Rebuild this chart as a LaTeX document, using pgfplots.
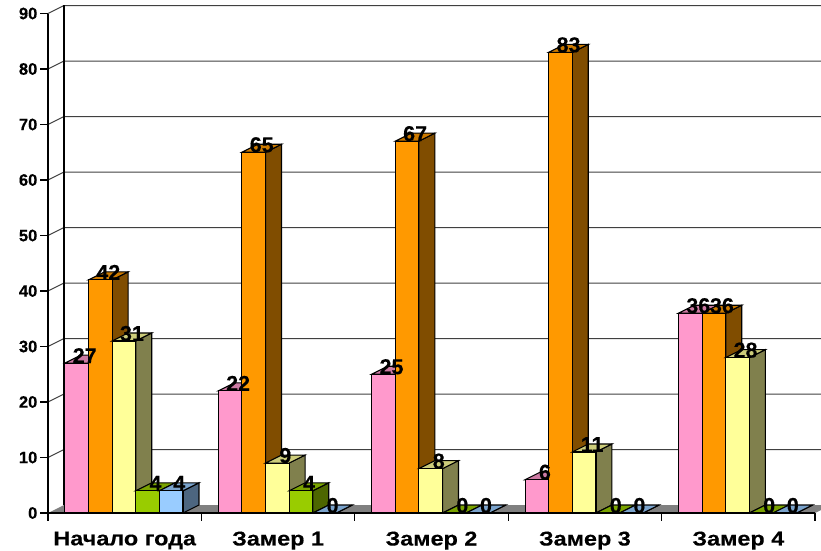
\documentclass[border=0pt]{standalone}
\usepackage{fontspec}
\setmainfont{Liberation Sans}
\newfontfamily\catfont[BoldFeatures={FakeStretch=1.17,FakeBold=0.3}]{Liberation Sans}
\newfontfamily\numfont[BoldFeatures={FakeBold=0.4}]{Liberation Sans}
\usepackage{pgfplots}
\usepackage{pgfplotstable}
\pgfplotsset{compat=1.18}

\definecolor{pinkF}{HTML}{FF99CC}\definecolor{pinkT}{HTML}{CC7AA3}\definecolor{pinkS}{HTML}{804D66}
\definecolor{orngF}{HTML}{FF9900}\definecolor{orngT}{HTML}{CC7A00}\definecolor{orngS}{HTML}{804D00}
\definecolor{yellF}{HTML}{FFFF99}\definecolor{yellT}{HTML}{CCCC7A}\definecolor{yellS}{HTML}{80804D}
\definecolor{grenF}{HTML}{99CC00}\definecolor{grenT}{HTML}{7AA300}\definecolor{grenS}{HTML}{4D6600}
\definecolor{bluuF}{HTML}{99CCFF}\definecolor{bluuT}{HTML}{7AA3CC}\definecolor{bluuS}{HTML}{4D6680}

\pgfplotstableread{
x y
0 27
1 22
2 25
3 6
4 36
}\pinkdata
\pgfplotstableread{
x y
0 42
1 65
2 67
3 83
4 36
}\orngdata
\pgfplotstableread{
x y
0 31
1 9
2 8
3 11
4 28
}\yelldata
\pgfplotstableread{
x y
0 4
1 4
2 0
3 0
4 0
}\grendata
\pgfplotstableread{
x y
0 4
1 0
2 0
3 0
4 0
}\bluudata

% side and top faces of one series: table, bar shift, top colour, side colour
\newcommand\depthfaces[4]{%
  \pgfplotsforeachungrouped \rowi in {0,1,2,3,4}{%
    \pgfplotstablegetelem{\rowi}{y}\of{#1}\let\val\pgfplotsretval
    \pgfmathsetmacro\xa{\rowi+#2-0.077}%
    \pgfmathsetmacro\xb{\rowi+#2+0.077}%
    \pgfmathsetmacro\xc{\xb+0.104}%
    \pgfmathsetmacro\xd{\xa+0.104}%
    \pgfmathsetmacro\vb{\val+1.44}%
    \edef\temp{%
      \noexpand\addplot[fill=#4,draw=black,line width=1.1pt] coordinates {(\xb,0)(\xc,1.44)(\xc,\vb)(\xb,\val)} --cycle;
      \noexpand\addplot[fill=#3,draw=black,line width=1.1pt] coordinates {(\xa,\val)(\xd,\vb)(\xc,\vb)(\xb,\val)} --cycle;
    }\temp
  }%
}
\newcommand\frontbars[3]{%
  \addplot[ybar,fill=#3,draw=black,line width=1.1pt,bar width=0.154,bar shift=#2] table[x=x,y=y] {#1};
}
\newcommand\barlabels[2]{%
  \addplot[draw=none,mark=none,point meta=y,nodes near coords] table[x expr=\thisrow{x}+#2,y=y] {#1};
}

\begin{document}
\begin{tikzpicture}
\useasboundingbox (-48pt,-37pt) rectangle (773pt,513pt);
\begin{axis}[
    scale only axis,
    width=773pt,
    height=510.6pt,
    xmin=0,xmax=5.039,
    ymin=0,ymax=92,
    clip=false,
    axis line style={draw=none},
    axis x line*=bottom,
    axis y line*=left,
    ytick={0,10,...,90},
    xtick={0,1,2,3,4,5},
    xticklabels={},
    extra x ticks={0.5,1.5,2.5,3.5,4.5},
    extra x tick labels={Начало года,Замер 1,Замер 2,Замер 3,Замер 4},
    extra x tick style={major tick length=0pt},
    tick align=outside,
    major tick length=7.5pt,
    tick style={black,line width=1.1pt},
    /pgf/number format/assume math mode=true,
    yticklabel style={font=\numfont\fontsize{16.5}{18}\selectfont\bfseries,inner sep=0pt,xshift=-3pt},
    xticklabel style={font=\catfont\fontsize{20}{22}\selectfont\bfseries,yshift=-15pt},
    every node near coord/.append style={font=\numfont\fontsize{21.5}{23}\selectfont\bfseries,anchor=center,xshift=8pt,yshift=7.5pt,inner sep=0pt},
]
% floor and walls
\fill[gray] (axis cs:0,0) -- ++(16pt,8pt) -- (axis cs:5.039,1.44) -- (axis cs:5.039,0.54) -- (axis cs:5,0) -- cycle;
\pgfplotsinvokeforeach{10,20,30,40,50,60,70,80,90}{
  \draw[black!75,line width=1pt] (axis cs:0,#1) -- ++(16pt,8pt) -- ++(757pt,0pt);
}
\draw[black,line width=1.2pt] (axis cs:0,0) -- (axis cs:0,90);
\draw[black,line width=1.2pt] (axis cs:0,0) ++(16pt,8pt) -- ++(0pt,499.5pt);

\depthfaces{\pinkdata}{0.187}{pinkT}{pinkS}
\frontbars{\pinkdata}{0.187}{pinkF}
\depthfaces{\orngdata}{0.341}{orngT}{orngS}
\frontbars{\orngdata}{0.341}{orngF}
\depthfaces{\yelldata}{0.495}{yellT}{yellS}
\frontbars{\yelldata}{0.495}{yellF}
\depthfaces{\grendata}{0.649}{grenT}{grenS}
\frontbars{\grendata}{0.649}{grenF}
\depthfaces{\bluudata}{0.803}{bluuT}{bluuS}
\frontbars{\bluudata}{0.803}{bluuF}

\draw[black,line width=1.5pt] (axis cs:0,0) -- (axis cs:5,0);

\barlabels{\pinkdata}{0.187}
\barlabels{\orngdata}{0.341}
\barlabels{\yelldata}{0.495}
\barlabels{\grendata}{0.649}
\barlabels{\bluudata}{0.803}
\end{axis}
\end{tikzpicture}
\end{document}
